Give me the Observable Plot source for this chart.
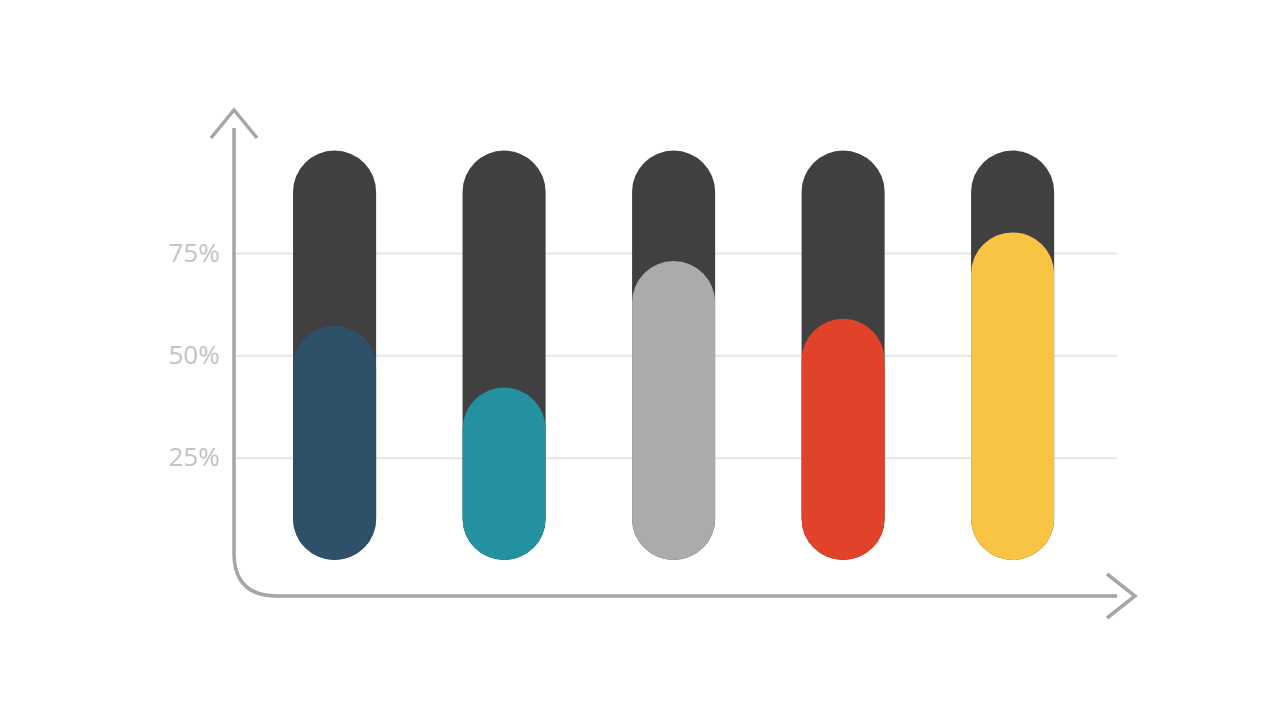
<!DOCTYPE html>
<html>
<head>
<meta charset="utf-8">
<script src="https://cdn.jsdelivr.net/npm/d3@7"></script>
<script src="https://cdn.jsdelivr.net/npm/@observablehq/plot@0.6"></script>
<style>
  html, body { margin: 0; padding: 0; background: #ffffff; }
  #chart { width: 1280px; height: 720px; }
</style>
</head>
<body>
<div id="chart"></div>
<script>
const categories = ["A", "B", "C", "D", "E"];
const values = [57.2, 42.1, 73.0, 58.9, 80.0];
const colors = ["#2e5169", "#23919f", "#aaabab", "#e0432a", "#f9c344"];
const totals = [100, 100, 100, 100, 100];
const tickValues = [25, 50, 75];
const tickLabels = ["25%", "50%", "75%"];

const bg = categories.map((c, i) => ({cat: c, v: totals[i]}));
const fg = categories.map((c, i) => ({cat: c, v: values[i], color: colors[i]}));
const ticks = tickValues.map((t, i) => ({t, label: tickLabels[i]}));

const W = 1280, H = 720;
const mL = 206.6, mR = 139.4, mT = 150.5, mB = 160;
const barW = 83;
const insL = 27.4, insR = 23.6;

const plot = Plot.plot({
  width: W,
  height: H,
  marginLeft: mL,
  marginRight: mR,
  marginTop: mT,
  marginBottom: mB,
  style: {background: "transparent", fontFamily: "'Open Sans', sans-serif"},
  x: {domain: categories, padding: 0.51, round: false, axis: null},
  y: {domain: [0, 100], axis: null},
  marks: [
    Plot.ruleY(ticks, {y: "t", stroke: "#e6e6e6", strokeWidth: 2, insetLeft: insL, insetRight: insR}),
    Plot.text(ticks, {y: "t", text: "label", frameAnchor: "left", dx: 12.6, textAnchor: "end",
      fill: "#c3c3c3", fontSize: 26, fontFamily: "'Open Sans', sans-serif"}),
    Plot.barY(bg, {x: "cat", y: "v", fill: "#404040", rx: barW / 2}),
    Plot.barY(fg, {x: "cat", y: "v", fill: "color", rx: barW / 2})
  ]
});
document.getElementById("chart").appendChild(plot);

// axis decoration (arrows and rounded corner)
const y0 = H - mB; // pixel of 0%
const axX = mL + insL;
const axRight = W - mR - insR;
const axY = y0 + 36;
const r = 43;
const svg = d3.select(plot);
const g = svg.append("g").attr("fill", "none").attr("stroke", "#a6a6a6").attr("stroke-width", 3.5);
g.append("path").attr("d",
  `M${axX},${128} L${axX},${axY - r} Q${axX},${axY} ${axX + r},${axY} L${axRight},${axY}`);
g.append("path").attr("d", `M${axX - 23},${138} L${axX},${110} L${axX + 23},${138}`);
g.append("path").attr("d", `M${axRight - 10},${axY - 22} L${axRight + 18},${axY} L${axRight - 10},${axY + 22}`);
</script>
</body>
</html>
